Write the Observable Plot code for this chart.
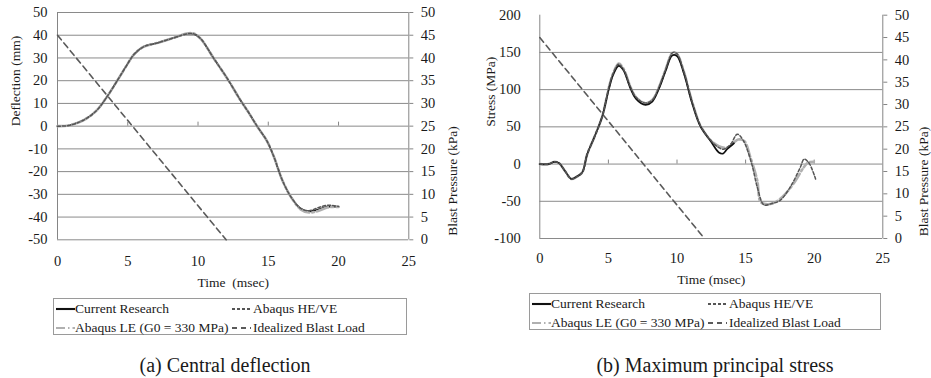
<!DOCTYPE html>
<html><head><meta charset="utf-8">
<script src="https://cdn.jsdelivr.net/npm/d3@7"></script>
<script src="https://cdn.jsdelivr.net/npm/@observablehq/plot@0.6"></script>
<style>
body{margin:0;background:#fff;width:931px;height:378px;position:relative;overflow:hidden;font-family:"Liberation Serif","DejaVu Serif","Times New Roman",serif;color:#1a1a1a}
.panel{position:absolute;top:0}
.panel text{font-family:"Liberation Serif","DejaVu Serif","Times New Roman",serif}
.panel g[aria-label$="tick label"]{font-size:14.5px}
.legend{position:absolute;border:1px solid #9a9a9a;box-sizing:border-box;background:#fff}
.legend span{position:absolute;font-size:13.5px;line-height:16px;white-space:nowrap;font-family:"Liberation Serif","DejaVu Serif",serif}
.legend svg{position:absolute}
.caption{position:absolute;font-size:20px;line-height:24px;transform:translate(-50%,-50%);white-space:nowrap;font-family:"Liberation Serif","DejaVu Serif",serif}
</style></head><body>
<script>
// ---------- data ----------
const seriesNames = ["Current Research", "Abaqus HE/VE", "Abaqus LE (G0 = 330 MPa)", "Idealized Blast Load"];
const xTickValues = [0, 5, 10, 15, 20, 25];
const xInnerTicks = [5, 10, 15, 20];
const kpaTicks = [0, 5, 10, 15, 20, 25, 30, 35, 40, 45, 50];
const deflTicks = [50, 40, 30, 20, 10, 0, -10, -20, -30, -40, -50];
const stressTicks = [200, 150, 100, 50, 0, -50, -100];

// idealized blast load (kPa, secondary axis)
const blastTime = [0, 12];
const blastKpa = [45, 0];

// (a) central deflection, mm
const deflTime = [0, 0.8, 1.9, 2.8, 3.55, 4.25, 4.85, 5.45, 6.15, 7.1, 8.3, 9.2, 9.7, 10.2, 11.1, 12.1, 13.0, 13.6, 14.2, 14.9, 15.4, 16.0, 16.6, 17.3, 17.9, 18.5, 19.2, 20];
const deflCurrent = [0, 0.3, 2.8, 7, 13.2, 20, 26, 31.6, 35, 36.6, 38.9, 40.6, 40.6, 38.4, 30, 20.8, 11.6, 6, 0, -6.5, -13.5, -23.8, -31, -36.2, -37.5, -36.8, -35.5, -35.5];
const deflHEVE = [0, 0.3, 2.8, 7, 13.2, 20, 26, 31.6, 35, 36.6, 38.9, 40.6, 40.6, 38.4, 30, 20.8, 11.6, 6, 0, -6.5, -13.5, -23.8, -31, -36.2, -37.2, -36, -34.8, -35.3];
const deflLE = [0, 0.3, 2.8, 7, 13.2, 20, 26, 31.6, 35, 36.6, 38.9, 40.8, 40.8, 38.4, 30, 20.8, 11.6, 6, 0, -6.5, -13.5, -23.8, -31, -36.6, -38, -37.4, -35.8, -35.5];

// (b) maximum principal stress, MPa
const stressTimeCurrent = [0, 0.65, 1.05, 1.4, 1.85, 2.3, 2.7, 3.1, 3.45, 3.95, 4.55, 5.05, 5.35, 5.75, 6.1, 6.6, 7.0, 7.7, 8.2, 8.7, 9.15, 9.65, 10.0, 10.5, 11.1, 11.7, 12.45, 13.05, 13.35, 13.65, 14.15];
const stressCurrent = [0, 0, 3, 1.3, -9.7, -19.9, -16.8, -11, 13, 35, 64, 102, 120, 132, 126, 102, 88, 79.5, 84, 102, 124, 146, 145, 122, 82, 51, 31, 15.5, 14, 20, 28];
const stressTimeHEVE = [0, 0.65, 1.05, 1.4, 1.85, 2.3, 2.7, 3.1, 3.45, 3.95, 4.55, 5.05, 5.35, 5.75, 6.1, 6.6, 7.0, 7.7, 8.2, 8.7, 9.15, 9.7, 10.0, 10.5, 11.1, 11.7, 12.45, 13.05, 13.4, 13.9, 14.4, 14.85, 15.45, 15.85, 16.35, 16.9, 17.5, 18.25, 19.0, 19.25, 19.6, 20.1];
const stressHEVE = [0, 0, 3, 1.3, -9.7, -20, -17, -11, 13, 35, 64, 104, 122, 134, 127, 104, 90, 82, 86, 104, 126, 150, 148, 124, 84, 52, 32, 22, 20, 26.5, 40, 31, 0, -31, -55, -53, -49, -31, -4, 6.5, 2, -20];
const stressTimeLE = [0, 0.65, 1.05, 1.4, 1.85, 2.3, 2.7, 3.1, 3.45, 3.95, 4.55, 5.05, 5.35, 5.75, 6.1, 6.6, 7.0, 7.7, 8.2, 8.7, 9.15, 9.7, 10.0, 10.5, 11.1, 11.7, 12.45, 13.05, 13.65, 14.15, 14.45, 14.9, 15.35, 15.85, 16.1, 16.6, 17.2, 17.9, 18.65, 19.25, 19.55, 20.0];
const stressLE = [0, 0, 3, 1.3, -9.7, -20, -17, -11, 13, 35, 64, 104, 122, 135, 128, 104, 90, 82, 86, 104, 126, 150, 148, 124, 84, 52, 32, 24, 22, 29, 33, 31, 9, -22, -51, -54, -51, -40, -22, -4, 2, 3];

// ---------- styles ----------
const fontStack = '"Liberation Serif","DejaVu Serif","Times New Roman",serif';
const gridColor = "#8a8a8a";
const axisColor = "#858585";
const styles = [
  {stroke: "#111", strokeWidth: 1.7},
  {stroke: "#555", strokeWidth: 1.5, strokeDasharray: "3,2"},
  {stroke: "#b0b0b0", strokeWidth: 2.6, strokeDasharray: "12,3,2,3"},
  {stroke: "#5a5a5a", strokeWidth: 1.6, strokeDasharray: "6,4"}
];

const zip = (T, V) => T.map((t, i) => ({t, v: V[i]}));

function drawPanel(o) {
  const toP = k => o.kBase + k * o.kScale;
  const fromP = v => Math.round((v - o.kBase) / o.kScale);
  const blast = zip(blastTime, blastKpa.map(toP));
  const line = (data, s) => Plot.line(data, {x: "t", y: "v", curve: "catmull-rom", ...styles[s]});
  const lineMarks = o.order.map(([data, s]) => line(data, s));
  return Plot.plot({
    width: o.width, height: o.height,
    marginLeft: o.ml, marginRight: o.mr, marginTop: o.mt, marginBottom: o.mb,
    style: {fontFamily: fontStack, fontSize: "13.5px", color: "#1a1a1a", background: "transparent", overflow: "visible"},
    x: {domain: [0, 25]},
    y: {domain: o.yDomain},
    marks: [
      Plot.ruleY(o.grid, {stroke: gridColor, strokeWidth: 1}),
      Plot.ruleX([0], {stroke: axisColor}),
      Plot.ruleX([25], {stroke: axisColor}),
      Plot.ruleX(xInnerTicks, {x: d => d, y1: 0, y2: 0, insetTop: -4, stroke: axisColor}),
      Plot.axisX({ticks: xTickValues, tickSize: 0, tickPadding: o.xPad, tickFormat: d => String(d), label: null, fontFamily: fontStack}),
      Plot.axisY({anchor: "left", ticks: o.yTicks, tickSize: 0, tickPadding: o.yPad, tickFormat: d => String(d), label: null, fontFamily: fontStack}),
      Plot.axisY({anchor: "right", ticks: kpaTicks.map(toP), tickFormat: v => String(fromP(v)), tickSize: 4, tickPadding: 8, stroke: axisColor, label: null, fontFamily: fontStack}),
      Plot.line(blast, {x: "t", y: "v", ...styles[3]}),
      ...lineMarks,
      Plot.text([o.xLabel], {text: d => d, frameAnchor: "bottom", dy: o.xLabelDy, lineAnchor: "middle", fill: "#1a1a1a", fontFamily: fontStack}),
      Plot.text([o.yLabel], {text: d => d, frameAnchor: "left", rotate: -90, dx: o.yLabelDx, fill: "#1a1a1a", fontFamily: fontStack}),
      Plot.text(["Blast Pressure (kPa)"], {text: d => d, frameAnchor: "right", rotate: -90, dx: o.y2LabelDx, fill: "#1a1a1a", fontFamily: fontStack})
    ]
  });
}

const svgA = drawPanel({
  width: 470, height: 290, ml: 57, mr: 61.7, mt: 12, mb: 50.7,
  yDomain: [-50, 50], grid: deflTicks, yTicks: deflTicks, kBase: -50, kScale: 2,
  xPad: 16, yPad: 10, xLabel: "Time  (msec)", xLabelDy: 43,
  yLabel: "Deflection (mm)", yLabelDx: -42, y2LabelDx: 44,
  order: [[zip(deflTime, deflCurrent), 0], [zip(deflTime, deflLE), 2], [zip(deflTime, deflHEVE), 1]]
});
svgA.classList.add("panel"); svgA.style.left = "0px";
document.body.appendChild(svgA);

const svgB = drawPanel({
  width: 466, height: 290, ml: 74.3, mr: 48.7, mt: 14.7, mb: 52,
  yDomain: [-100, 200], grid: stressTicks.filter(d => d < 200), yTicks: stressTicks, kBase: -100, kScale: 6,
  xPad: 14, yPad: 19, xLabel: "Time (msec)", xLabelDy: 41,
  yLabel: "Stress (MPa)", yLabelDx: -49, y2LabelDx: 41,
  order: [[zip(stressTimeLE, stressLE), 2], [zip(stressTimeCurrent, stressCurrent), 0], [zip(stressTimeHEVE, stressHEVE), 1]]
});
svgB.classList.add("panel"); svgB.style.left = "465px";
document.body.appendChild(svgB);

// ---------- legends ----------
function legend(left, top, width, height, rows) {
  const box = document.createElement("div");
  box.className = "legend";
  Object.assign(box.style, {left: left + "px", top: top + "px", width: width + "px", height: height + "px"});
  const layout = [[0, 0], [1, 0], [0, 1], [1, 1]]; // [col,row] for each series
  const sampleX = [2, 178], textX = [21, 199];
  seriesNames.forEach((name, i) => {
    const [c, r] = layout[i];
    const cy = rows[r];
    const s = styles[i];
    const svg = d3.create("svg").attr("width", 19).attr("height", 6)
      .style("left", sampleX[c] + "px").style("top", (cy - 3) + "px");
    svg.append("line").attr("x1", 0).attr("x2", 19).attr("y1", 3).attr("y2", 3)
      .attr("stroke", s.stroke).attr("stroke-width", i === 2 ? 2.2 : s.strokeWidth + 0.4)
      .attr("stroke-dasharray", i === 1 ? "3,2" : i === 2 ? "9,3,1.5,3" : i === 3 ? "5,4" : null);
    box.appendChild(svg.node());
    const span = document.createElement("span");
    span.textContent = name;
    span.style.left = textX[c] + "px";
    span.style.top = (cy - 8) + "px";
    box.appendChild(span);
  });
  document.body.appendChild(box);
}
legend(53, 298, 354, 37, [10, 28.5]);
legend(529, 293, 352, 37, [10, 29]);

// ---------- captions ----------
function caption(text, x, y) {
  const d = document.createElement("div");
  d.className = "caption";
  d.textContent = text;
  d.style.left = x + "px"; d.style.top = y + "px";
  document.body.appendChild(d);
}
caption("(a) Central deflection", 225, 365);
caption("(b) Maximum principal stress", 715, 365);
</script>
</body></html>
